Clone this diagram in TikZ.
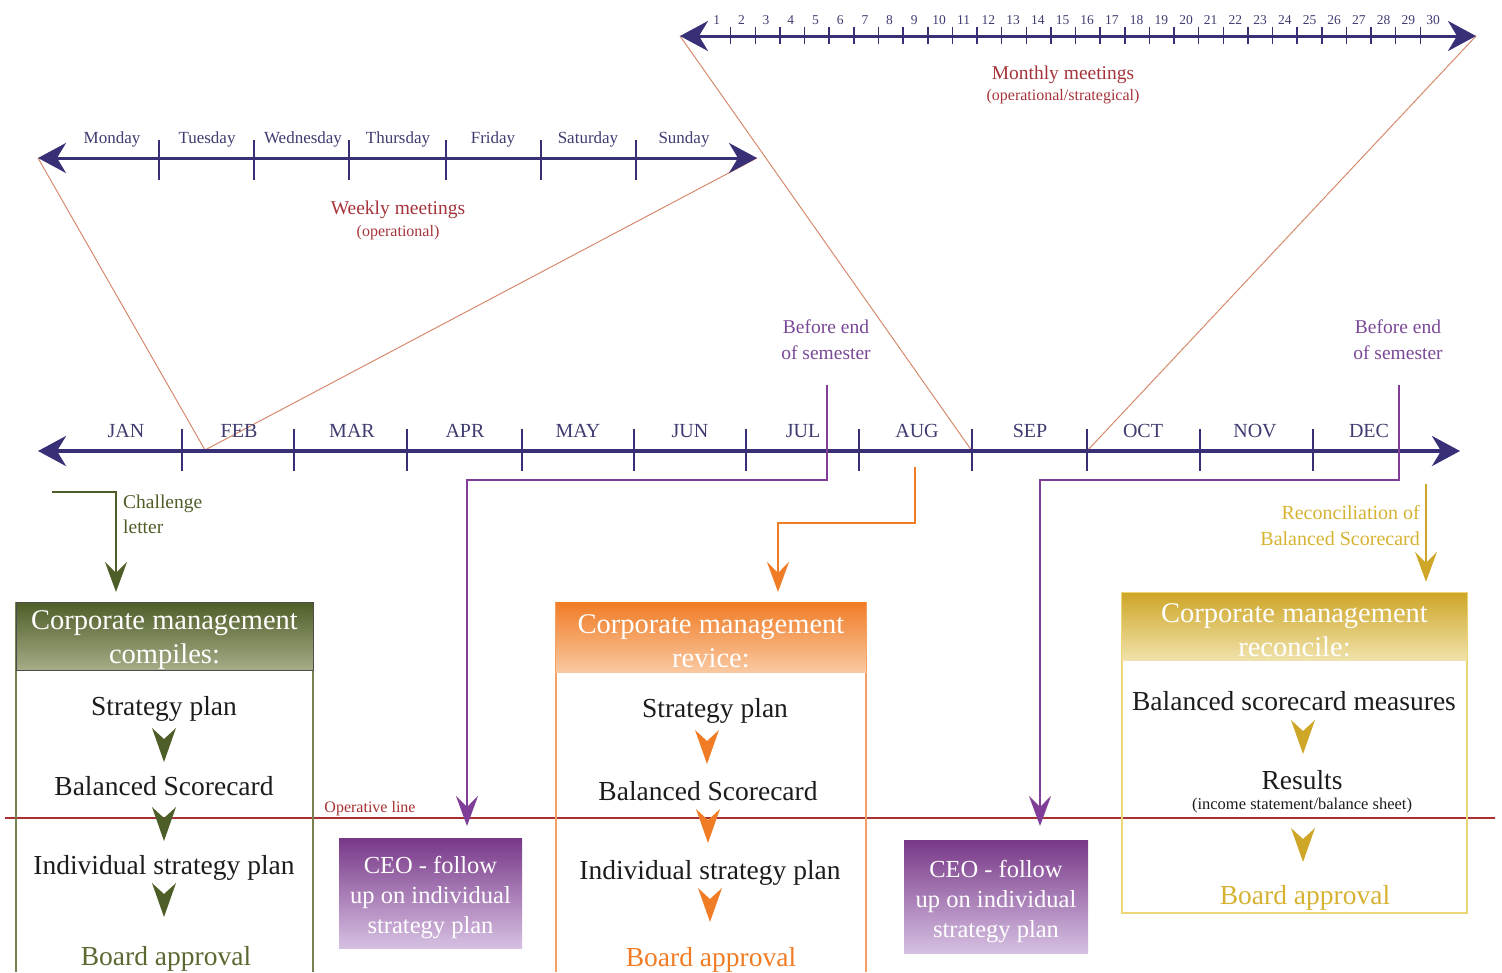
\documentclass[tikz,border=0pt]{standalone}
\usepackage{fontspec}
\setmainfont{Liberation Serif}
\usetikzlibrary{arrows.meta}
\definecolor{axisc}{RGB}{56,48,118}
\definecolor{axtext}{RGB}{62,60,112}
\definecolor{thinc}{RGB}{214,138,108}
\definecolor{meetc}{RGB}{164,52,58}
\definecolor{purpc}{RGB}{128,62,152}
\definecolor{semc}{RGB}{122,72,150}
\definecolor{grnc}{RGB}{78,94,40}
\definecolor{grnl}{RGB}{165,172,135}
\definecolor{grnframe}{RGB}{120,130,80}
\definecolor{grntext}{RGB}{90,105,50}
\definecolor{orc}{RGB}{240,124,38}
\definecolor{orl}{RGB}{250,200,160}
\definecolor{orframe}{RGB}{244,160,100}
\definecolor{goldc}{RGB}{206,166,40}
\definecolor{goldl}{RGB}{240,226,170}
\definecolor{goldframe}{RGB}{236,214,120}
\definecolor{goldtext}{RGB}{214,178,50}
\definecolor{operc}{RGB}{168,48,48}
\definecolor{ceotop}{RGB}{120,56,136}
\definecolor{ceobot}{RGB}{214,192,226}
\definecolor{bodyc}{RGB}{28,28,28}
\begin{document}
\begin{tikzpicture}[x=1pt,y=-1pt,
  axisline/.style={draw=axisc,line width=3.4pt,arrows={Stealth[length=28pt,width=30pt,inset=9pt]-Stealth[length=28pt,width=30pt,inset=9pt]}},
  tickmark/.style={draw=axisc,line width=1.5pt},
  thinline/.style={draw=thinc,line width=1pt},
  conn/.style={line width=2pt,arrows={-Stealth[length=30pt,width=22pt,inset=11pt]}},
  numlab/.style={text=axtext,inner sep=0pt,font=\fontsize{13.5}{16}\selectfont},
  daylab/.style={text=axtext,inner sep=0pt,font=\fontsize{17}{20}\selectfont},
  monlab/.style={text=axtext,inner sep=0pt,font=\fontsize{20}{24}\selectfont},
  meettitle/.style={text=meetc,inner sep=0pt,font=\fontsize{19.5}{23}\selectfont},
  meetsub/.style={text=meetc,inner sep=0pt,font=\fontsize{16}{19}\selectfont},
  semlab/.style={text=semc,inner sep=0pt,align=center,font=\fontsize{19.5}{26}\selectfont},
  hdrbox/.style={inner sep=0pt},
  hdr/.style={text=white,inner sep=0pt,align=center,font=\fontsize{28.5}{34}\selectfont},
  bodyt/.style={text=bodyc,inner sep=0pt,text height=24pt,text depth=6pt,font=\fontsize{27.5}{33}\selectfont},
  ceobox/.style={inner sep=0pt,top color=ceotop,bottom color=ceobot},
  ceotext/.style={text=white,inner sep=0pt,align=center,font=\fontsize{24.5}{30}\selectfont},
  chev/.pic={\fill[pic actions] (-12,-17) -- (0,-6) -- (12,-17) -- (0,17) -- cycle;}
]
\useasboundingbox (0,0) rectangle (1502,972);
% key coordinates
\coordinate (mL) at (680,36); \coordinate (mR) at (1476,36);
\coordinate (wL) at (38,158); \coordinate (wR) at (757,158);
\coordinate (aL) at (38,451); \coordinate (aR) at (1460,451);
\coordinate (feb) at (205,450);
\coordinate (augsep) at (972,451);
\coordinate (sepoct) at (1087,451);
% thin zoom lines
\draw[thinline] (wL) -- (feb) -- (wR);
\draw[thinline] (mL) -- (augsep);
\draw[thinline] (mR) -- (sepoct);
% monthly axis
\draw[axisline,line width=3pt] (mL) -- (mR);
\foreach \k in {0,...,28} \draw[tickmark] ({730.7+24.63*\k},27) -- ++(0,17);
\foreach \i in {1,...,30} \node[numlab] (n\i) at ({716.7+24.7*(\i-1)},20) {\i};
\node[meettitle] (mm) at (1063,75) {Monthly meetings};
\node[meetsub] (mms) at (1063,97) {(operational/strategical)};
% weekly axis
\draw[axisline,line width=3pt] (wL) -- (wR);
\foreach \x in {159,254,349,446,541,636} \draw[tickmark] (\x,140) -- (\x,180);
\foreach \x/\d in {112/Monday,207/Tuesday,303/Wednesday,398/Thursday,493/Friday,588/Saturday,684/Sunday}
  \node[daylab] (d\d) at (\x,139) {\d};
\node[meettitle] (wm) at (398,210) {Weekly meetings};
\node[meetsub] (wms) at (398,233) {(operational)};
% main axis
\draw[axisline,line width=3.8pt] (aL) -- (aR);
\foreach \x in {182,294,407,522,634,746,859,972,1087,1200,1313} \draw[tickmark] (\x,429) -- (\x,471);
\foreach \x/\m in {126/JAN,239/FEB,352/MAR,465/APR,578/MAY,690/JUN,803/JUL,917/AUG,1030/SEP,1143/OCT,1255/NOV,1369/DEC}
  \node[monlab] (m\m) at (\x,431) {\m};
% operative line
\draw[draw=operc,line width=1.4pt] (5,818) coordinate (opL) -- (1495,818) coordinate (opR);
\node[text=operc,inner sep=0pt,font=\fontsize{16}{19}\selectfont] (oplab) at (370,809) {Operative line};
% ---------- box 1 (green)
\draw[draw=grnframe,line width=1.5pt] (16,602) -- (16,972) (313,602) -- (313,972);
\node[hdrbox,top color=grnc,bottom color=grnl,draw=black!70,line width=1pt,minimum width=297pt,minimum height=68pt] (h1) at (164.5,636) {};
\node[hdr] (h1t) at (164.5,640) {Corporate management\\compiles:};
\node[bodyt] (b1a) at (164,706) {Strategy plan};
\node[bodyt] (b1b) at (164,786) {Balanced Scorecard};
\node[bodyt] (b1c) at (164,865) {Individual strategy plan};
\node[bodyt,text=grntext] (b1d) at (166,956) {Board approval};
\pic[fill=grnc] at (164,745) {chev};
\pic[fill=grnc] at (164,824) {chev};
\pic[fill=grnc] at (164,900) {chev};
% ---------- box 2 (orange)
\draw[draw=orframe,line width=2pt] (556,602) -- (556,972) (866,602) -- (866,972);
\node[hdrbox,top color=orc,bottom color=orl,minimum width=310pt,minimum height=70pt] (h2) at (711,637) {};
\node[hdr] (h2t) at (711,641) {Corporate management\\revice:};
\node[bodyt] (b2a) at (715,708) {Strategy plan};
\node[bodyt] (b2b) at (708,791) {Balanced Scorecard};
\node[bodyt] (b2c) at (710,870) {Individual strategy plan};
\node[bodyt,text=orc] (b2d) at (711,957) {Board approval};
\pic[fill=orc] at (707,747) {chev};
\pic[fill=orc] at (708,826) {chev};
\pic[fill=orc] at (710,905) {chev};
% ---------- box 3 (gold)
\node[draw=goldframe,line width=1.5pt,minimum width=345pt,minimum height=320pt,inner sep=0pt] (f3) at (1294.5,753) {};
\node[hdrbox,top color=goldc,bottom color=goldl,minimum width=345pt,minimum height=67pt] (h3) at (1294.5,626.5) {};
\node[hdr] (h3t) at (1294.5,630) {Corporate management\\reconcile:};
\node[bodyt] (b3a) at (1294,701) {Balanced scorecard measures};
\node[bodyt] (b3b) at (1302,780) {Results};
\node[text=bodyc,inner sep=0pt,font=\fontsize{16.5}{19}\selectfont] (b3c) at (1302,806) {(income statement/balance sheet)};
\node[bodyt,text=goldtext] (b3d) at (1305,895) {Board approval};
\pic[fill=goldc] at (1303,737) {chev};
\pic[fill=goldc] at (1303,845) {chev};
% ---------- CEO boxes
\node[ceobox,minimum width=183pt,minimum height=110pt] (ceo1) at (430.5,893) {};
\node[ceotext] (ceo1t) at (430.5,898) {CEO - follow\\up on individual\\strategy plan};
\node[ceobox,minimum width=184pt,minimum height=113pt] (ceo2) at (996,896.5) {};
\node[ceotext] (ceo2t) at (996,901.5) {CEO - follow\\up on individual\\strategy plan};
% ---------- semester labels and purple connectors
\node[semlab] (sem1) at (826,340) {Before end\\of semester};
\node[semlab] (sem2) at (1398,340) {Before end\\of semester};
\coordinate (p1) at (827,385); \coordinate (p1tip) at (467,826);
\coordinate (p2) at (1399,385); \coordinate (p2tip) at (1040,826);
\draw[conn,draw=purpc,line width=2.2pt] (p1) -- ++(0,95) -| (p1tip);
\draw[conn,draw=purpc,line width=2.2pt] (p2) -- ++(0,95) -| (p2tip);
% ---------- challenge letter (green)
\coordinate (cl) at (52,492); \coordinate (cltip) at (116,592);
\draw[conn,draw=grnc] (cl) -| (cltip);
\node[text=grnc,inner sep=0pt,align=left,anchor=west,font=\fontsize{19.5}{25}\selectfont] (cltext) at (123,514) {Challenge\\letter};
% ---------- AUG revision (orange)
\coordinate (au) at (915,467); \coordinate (autip) at (778,592);
\draw[conn,draw=orc] (au) -- ++(0,56) -| (autip);
% ---------- reconciliation (gold)
\coordinate (rc) at (1426,484);
\draw[conn,draw=goldc,line width=1.6pt,shorten >=11pt] (rc) -- (rc |- h3.north);
\node[text=goldtext,inner sep=0pt,align=right,anchor=east,font=\fontsize{20}{26}\selectfont] (rctext) at (1420,526) {Reconciliation of\\Balanced Scorecard};
\end{tikzpicture}
\end{document}
